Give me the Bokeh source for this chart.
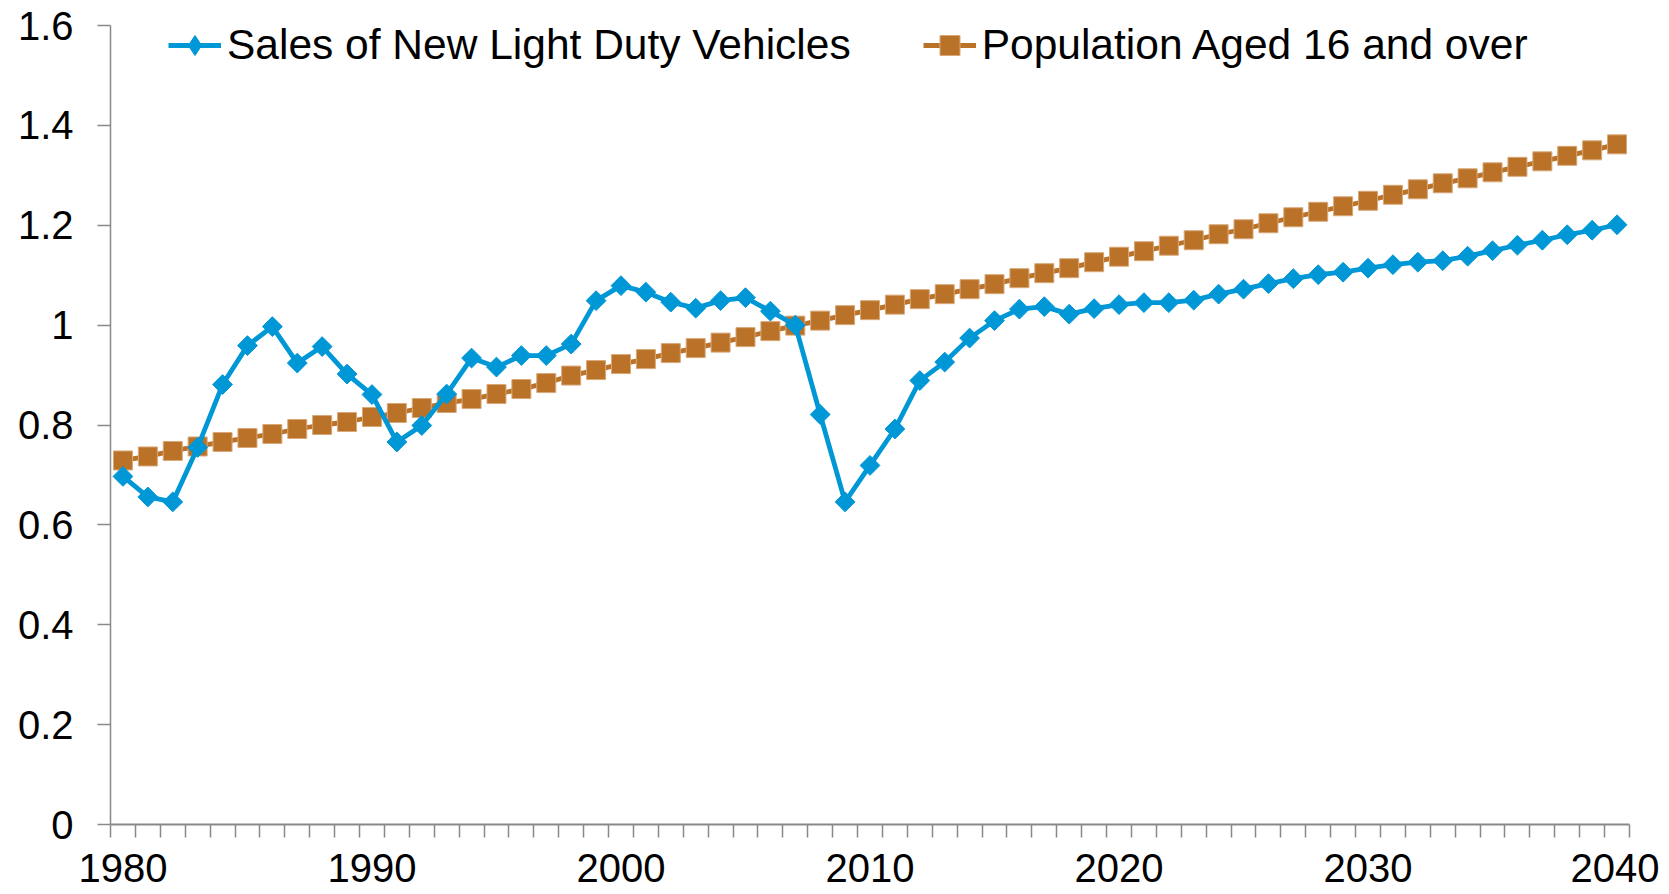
from bokeh.plotting import figure
from bokeh.models import (ColumnDataSource, Range1d, FixedTicker, CustomJSTickFormatter,
                          Legend, LegendItem)
from bokeh.embed import file_html
from bokeh.resources import INLINE
import math

years = list(range(1980, 2041))
sales = [0.697, 0.656, 0.646, 0.755, 0.881, 0.959, 0.997, 0.924, 0.957, 0.902,
         0.861, 0.766, 0.799, 0.862, 0.934, 0.916, 0.939, 0.939, 0.962, 1.049,
         1.079, 1.066, 1.046, 1.034, 1.049, 1.055, 1.028, 1.000, 0.821, 0.646,
         0.719, 0.792, 0.889, 0.926, 0.974, 1.009, 1.032, 1.037, 1.022, 1.033,
         1.041, 1.045, 1.045, 1.050, 1.062, 1.072, 1.083, 1.093, 1.101, 1.106,
         1.114, 1.121, 1.126, 1.129, 1.138, 1.149, 1.160, 1.170, 1.181, 1.190,
         1.201]
population = [0.729, 0.737, 0.748, 0.757, 0.766, 0.774, 0.782, 0.792, 0.800, 0.806,
              0.816, 0.824, 0.834, 0.844, 0.852, 0.862, 0.872, 0.884, 0.899, 0.910,
              0.922, 0.932, 0.944, 0.954, 0.965, 0.976, 0.988, 0.999, 1.009, 1.020,
              1.030, 1.041, 1.052, 1.062, 1.072, 1.082, 1.094, 1.104, 1.114, 1.126,
              1.137, 1.148, 1.159, 1.170, 1.182, 1.192, 1.204, 1.216, 1.227, 1.238,
              1.249, 1.261, 1.272, 1.284, 1.294, 1.306, 1.317, 1.328, 1.339, 1.350,
              1.362]
x_labels = [1980, 1990, 2000, 2010, 2020, 2030, 2040]
y_ticks = [0, 0.2, 0.4, 0.6, 0.8, 1, 1.2, 1.4, 1.6]
series_names = ["Sales of New Light Duty Vehicles", "Population Aged 16 and over"]

BLUE = "#0097D7"
ORANGE = "#BA7229"
AXIS = "#898989"
FONT = "Liberation Sans"

src = ColumnDataSource(dict(year=years, sales=sales, pop=population))

p = figure(frame_width=1519, frame_height=799, output_backend="svg", toolbar_location=None,
           x_range=Range1d(1979.5, 2040.5), y_range=Range1d(0, 1.6),
           min_border_left=110, min_border_top=25, min_border_right=30, min_border_bottom=64)
p.outline_line_color = None
p.xgrid.visible = False
p.ygrid.visible = False

l2 = p.line("year", "pop", source=src, line_color=ORANGE, line_width=4.8)
s2 = p.scatter("year", "pop", source=src, marker="square", size=19,
               fill_color=ORANGE, line_color="#D8A878", line_width=1)
l1 = p.line("year", "sales", source=src, line_color=BLUE, line_width=4.8)
s1 = p.scatter("year", "sales", source=src, marker="square", size=14, angle=math.pi / 4,
               fill_color=BLUE, line_color=BLUE, line_width=1)

# legend-only swatch (NaN point, nothing drawn in the plot): diamond shape for the legend
d_leg = p.scatter(x=[float("nan")], y=[float("nan")], marker="diamond", size=20,
                  fill_color=BLUE, line_color=BLUE)

xa = p.xaxis[0]
xa.ticker = FixedTicker(ticks=x_labels, minor_ticks=[y - 0.5 for y in range(1980, 2042)])
xa.major_tick_out = 0
xa.major_tick_in = 0
xa.minor_tick_out = 13
xa.minor_tick_in = 0
xa.minor_tick_line_color = AXIS
xa.minor_tick_line_width = 1.5
xa.axis_line_color = AXIS
xa.axis_line_width = 2
xa.major_label_standoff = 16
xa.major_label_text_font = FONT
xa.major_label_text_font_size = "40px"
xa.major_label_text_color = "black"

ya = p.yaxis[0]
ya.ticker = FixedTicker(ticks=y_ticks)
ya.formatter = CustomJSTickFormatter(code="return tick.toFixed(1).replace(/\\.0$/, '');")
ya.major_tick_out = 13
ya.major_tick_in = 0
ya.minor_tick_out = 0
ya.minor_tick_in = 0
ya.major_tick_line_color = AXIS
ya.major_tick_line_width = 1.5
ya.axis_line_color = AXIS
ya.axis_line_width = 1.5
ya.major_label_standoff = 24
ya.major_label_text_font = FONT
ya.major_label_text_font_size = "40px"
ya.major_label_text_color = "black"

legend = Legend(items=[LegendItem(label=series_names[0], renderers=[l1, d_leg]),
                       LegendItem(label=series_names[1], renderers=[l2, s2])],
                orientation="horizontal", location=(58, 754), padding=0, margin=0,
                spacing=72, label_standoff=6, glyph_width=53, glyph_height=50,
                label_text_font=FONT, label_text_font_size="42.5px",
                label_text_color="black",
                border_line_alpha=0, background_fill_alpha=0)
p.add_layout(legend)

open("out.html", "w").write(file_html(p, INLINE))
